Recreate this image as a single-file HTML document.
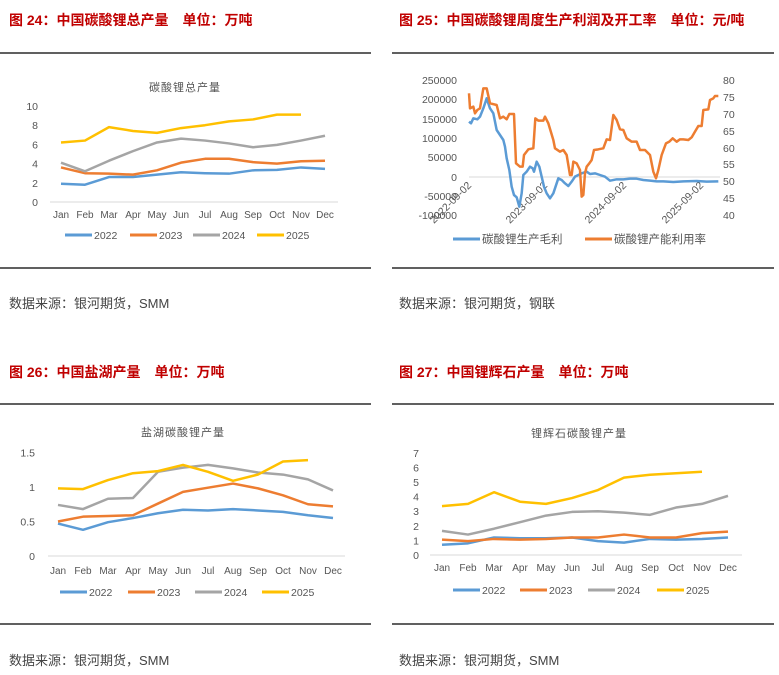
<!DOCTYPE html>
<html><head><meta charset="utf-8"><style>
body{margin:0;background:#fff;}
svg{display:block;font-family:"Liberation Sans","Noto Sans CJK SC",sans-serif;}
</style></head><body>
<svg id="s" width="779" height="675" viewBox="0 0 779 675" xmlns="http://www.w3.org/2000/svg">
<g font-size="14" font-weight="bold" fill="#c00000">
<text x="9" y="25">图 24：中国碳酸锂总产量　单位：万吨</text>
<text x="399" y="25">图 25：中国碳酸锂周度生产利润及开工率　单位：元/吨</text>
<text x="9" y="377">图 26：中国盐湖产量　单位：万吨</text>
<text x="399" y="377">图 27：中国锂辉石产量　单位：万吨</text>
</g>
<g stroke="#000" stroke-width="1.2">
<line x1="0" y1="53" x2="371" y2="53"/><line x1="392" y1="53" x2="774" y2="53"/>
<line x1="0" y1="268" x2="371" y2="268"/><line x1="392" y1="268" x2="774" y2="268"/>
<line x1="0" y1="404" x2="371" y2="404"/><line x1="392" y1="404" x2="774" y2="404"/>
<line x1="0" y1="624" x2="371" y2="624"/><line x1="392" y1="624" x2="774" y2="624"/>
</g>
<g font-size="13" fill="#444">
<text x="9" y="308">数据来源：银河期货，SMM</text>
<text x="399" y="308">数据来源：银河期货，钢联</text>
<text x="9" y="665">数据来源：银河期货，SMM</text>
<text x="399" y="665">数据来源：银河期货，SMM</text>
</g>
<g font-size="11" fill="#555">
<text x="185" y="91" text-anchor="middle" letter-spacing="1">碳酸锂总产量</text>
<text x="183" y="436" text-anchor="middle" letter-spacing="1">盐湖碳酸锂产量</text>
<text x="579" y="437" text-anchor="middle" letter-spacing="1">锂辉石碳酸锂产量</text>
</g>
<g id="c2" font-size="10.5" fill="#555">
<line x1="469" y1="177" x2="720" y2="177" stroke="#d9d9d9"/>
<g text-anchor="end">
<text x="457" y="84">250000</text><text x="457" y="103">200000</text><text x="457" y="123">150000</text><text x="457" y="142">100000</text><text x="457" y="161">50000</text><text x="457" y="181">0</text><text x="457" y="200">-50000</text><text x="457" y="219">-100000</text>
</g>
<g>
<text x="723" y="84">80</text><text x="723" y="101">75</text><text x="723" y="118">70</text><text x="723" y="135">65</text><text x="723" y="152">60</text><text x="723" y="168">55</text><text x="723" y="185">50</text><text x="723" y="202">45</text><text x="723" y="219">40</text>
</g>
<g text-anchor="end">
<text transform="translate(472,186) rotate(-45)">2022-09-02</text>
<text transform="translate(548,186) rotate(-45)">2023-09-02</text>
<text transform="translate(627,186) rotate(-45)">2024-09-02</text>
<text transform="translate(704,186) rotate(-45)">2025-09-02</text>
</g>
<g transform="translate(390,60) scale(0.33333)" fill="none" stroke-width="7.5" stroke-linejoin="round">
<polyline stroke="#5b9bd5" points="237,185 243,190 250,175 262,178 270,170 280,145 290,115 300,145 310,160 320,210 330,225 340,240 345,260 350,295 358,330 365,380 372,405 380,412 388,440 395,400 400,345 410,335 420,320 428,325 432,335 440,305 448,320 455,350 462,380 470,400 480,415 490,400 505,355 515,360 525,370 535,378 545,365 555,350 565,345 575,340 590,335 600,342 615,340 630,345 645,350 660,362 680,358 700,358 720,356 740,356 760,360 780,362 800,364 820,364 850,366 880,364 920,363 950,365 985,364"/>
<polyline stroke="#ed7d31" points="237,100 240,145 250,140 255,160 262,150 270,145 280,85 290,85 300,130 320,135 330,175 340,170 350,178 358,162 372,162 378,310 390,320 398,320 402,285 415,268 430,265 436,175 445,182 460,182 465,170 475,190 490,240 495,265 510,275 520,270 530,285 540,345 545,345 550,305 560,310 570,330 575,410 580,405 585,340 590,320 598,310 605,300 612,270 625,268 640,265 650,238 660,240 670,165 680,180 690,208 700,210 710,235 725,245 740,245 750,270 765,270 780,285 790,335 798,355 805,330 815,285 828,250 838,245 848,235 860,245 870,238 880,238 895,240 905,232 915,215 925,198 935,198 940,150 955,148 960,120 970,115 975,108 985,108"/>
</g>
<line x1="453" y1="239" x2="480" y2="239" stroke="#5b9bd5" stroke-width="3"/>
<text x="482" y="243" font-size="11.5">碳酸锂生产毛利</text>
<line x1="585" y1="239" x2="612" y2="239" stroke="#ed7d31" stroke-width="3"/>
<text x="614" y="243" font-size="11.5">碳酸锂产能利用率</text>
</g>
</svg>
<script>
var NS="http://www.w3.org/2000/svg",s=document.getElementById('s');
function el(t,a,txt){var e=document.createElementNS(NS,t);for(var k in a)e.setAttribute(k,a[k]);if(txt!=null)e.textContent=txt;s.appendChild(e);return e;}
var M=["Jan","Feb","Mar","Apr","May","Jun","Jul","Aug","Sep","Oct","Nov","Dec"],C=["#5b9bd5","#ed7d31","#a5a5a5","#ffc000"],Y=["2022","2023","2024","2025"];
function chart(o){
 el('line',{x1:o.bx1,y1:o.y0,x2:o.bx2,y2:o.y0,stroke:'#d9d9d9'});
 o.ticks.forEach(function(t){el('text',{x:o.lx,y:o.y0-t*o.k+4,'font-size':10.5,fill:'#555','text-anchor':'end'},t);});
 M.forEach(function(m,i){el('text',{x:o.x0+i*o.dx,y:o.my,'font-size':10,fill:'#555','text-anchor':'middle'},m);});
 o.d.forEach(function(d,j){el('polyline',{points:d.map(function(v,i){return (o.x0+i*o.dx)+','+(o.y0-v*o.k);}).join(' '),fill:'none',stroke:C[j],'stroke-width':2.5,'stroke-linejoin':'round'});
  el('line',{x1:o.lg[j],y1:o.ly,x2:o.lg[j]+27,y2:o.ly,stroke:C[j],'stroke-width':3});
  el('text',{x:o.lg[j]+29,y:o.ly+4,'font-size':10.5,fill:'#555'},Y[j]);});
}
chart({bx1:50,bx2:338,y0:202,k:9.6,lx:38,ticks:[0,2,4,6,8,10],x0:61,dx:24,my:218,ly:235,lg:[65,130,193,257],
d:[[1.9,1.8,2.6,2.6,2.85,3.1,3.0,2.95,3.3,3.35,3.6,3.45],[3.6,3.0,2.95,2.85,3.3,4.1,4.5,4.5,4.15,4.0,4.25,4.3],[4.1,3.2,4.3,5.3,6.2,6.6,6.4,6.1,5.7,5.95,6.4,6.9],[6.2,6.4,7.8,7.4,7.2,7.7,8.0,8.4,8.6,9.1,9.1]]});
chart({bx1:48,bx2:345,y0:556,k:69,lx:35,ticks:[0,0.5,1,1.5],x0:58,dx:25,my:574,ly:592,lg:[60,128,195,262],
d:[[.47,.38,.49,.55,.62,.67,.66,.68,.66,.64,.59,.55],[.5,.57,.58,.59,.76,.93,.99,1.05,.98,.88,.75,.72],[.74,.68,.83,.84,1.22,1.28,1.32,1.27,1.21,1.18,1.11,.95],[.98,.97,1.1,1.2,1.23,1.32,1.22,1.09,1.18,1.37,1.39]]});
chart({bx1:430,bx2:742,y0:555,k:14.6,lx:419,ticks:[0,1,2,3,4,5,6,7],x0:442,dx:26,my:571,ly:590,lg:[453,520,588,657],
d:[[.7,.8,1.2,1.15,1.15,1.2,.95,.85,1.1,1.05,1.1,1.2],[1.05,.95,1.1,1.05,1.1,1.2,1.2,1.4,1.2,1.2,1.5,1.6],[1.65,1.4,1.8,2.25,2.7,2.95,3.0,2.9,2.75,3.25,3.5,4.05],[3.35,3.5,4.3,3.65,3.5,3.9,4.45,5.3,5.5,5.6,5.7]]});
</script>
</body></html>
